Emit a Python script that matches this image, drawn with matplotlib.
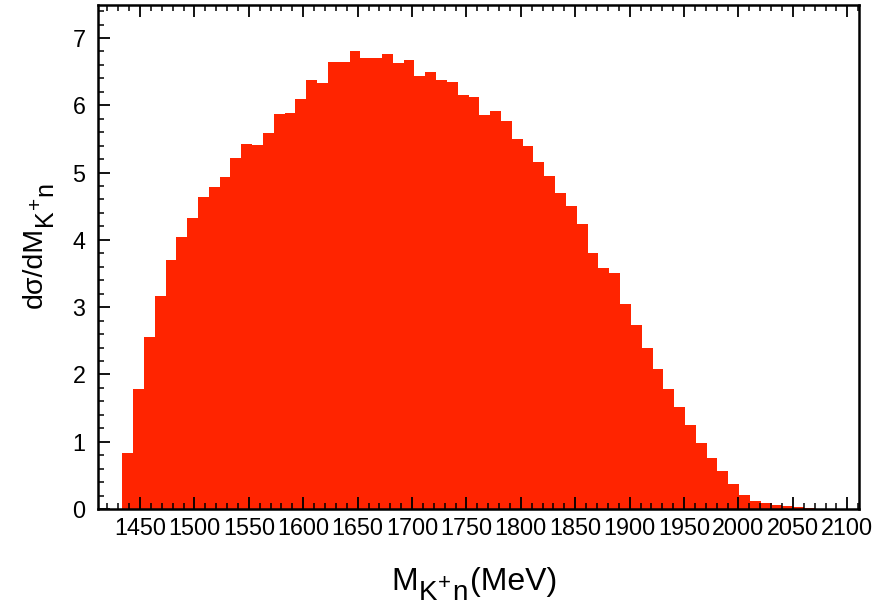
import numpy as np
import matplotlib
matplotlib.use("Agg")
import matplotlib.pyplot as plt
from matplotlib.ticker import MultipleLocator
from matplotlib.transforms import IdentityTransform
from matplotlib.font_manager import FontProperties

plt.rcParams['font.family'] = ['Liberation Sans', 'DejaVu Sans']

# Data: invariant mass bins (MeV) and d(sigma)/dM values
bin_start = 1433.7
bin_width = 9.945
values = [0.825, 1.785, 2.55, 3.17, 3.70, 4.04, 4.33, 4.63, 4.78, 4.935,
          5.22, 5.43, 5.41, 5.59, 5.877, 5.886, 6.10, 6.37, 6.33, 6.64,
          6.64, 6.80, 6.70, 6.71, 6.76, 6.63, 6.67, 6.43, 6.49, 6.38,
          6.35, 6.15, 6.13, 5.86, 5.92, 5.77, 5.50, 5.39, 5.16, 4.955,
          4.69, 4.51, 4.23, 3.80, 3.58, 3.50, 3.04, 2.73, 2.40, 2.08,
          1.78, 1.51, 1.245, 0.978, 0.76, 0.56, 0.373, 0.215, 0.126, 0.096,
          0.06, 0.04, 0.025, 0.01]
xticks = list(range(1450, 2101, 50))
yticks = list(range(0, 8))

edges = bin_start + bin_width * np.arange(len(values) + 1)

W, H = 875, 605
fig = plt.figure(figsize=(W / 100, H / 100), dpi=100)
ax = fig.add_axes([0.112, 0.1587, 0.870, 0.833])

ax.stairs(values, edges, fill=True, color='#ff2400', linewidth=0)

ax.set_xlim(1411.4, 2111)
ax.set_ylim(0, 7.49)
ax.set_xticks(xticks)
ax.set_xticklabels([str(t) for t in xticks])
ax.set_yticks(yticks)
ax.xaxis.set_minor_locator(MultipleLocator(10))
ax.yaxis.set_minor_locator(MultipleLocator(0.2))

ax.tick_params(which='both', direction='in', top=True, right=False,
               labelsize=16.8, color='black')
ax.tick_params(which='major', length=8.5, width=1.3)
ax.tick_params(which='minor', length=4.3, width=1.1)
ax.tick_params(axis='x', pad=6)
ax.tick_params(axis='y', pad=9)

for sp in ax.spines.values():
    sp.set_linewidth(1.8)


def compose(pieces, center, base, rotation=0):
    """Draw a label made of pieces (text, fontsize, shift_px_down, gap_px)."""
    r = fig.canvas.get_renderer()
    widths = []
    for s, fs, dy, gap in pieces:
        fp = FontProperties(family='Liberation Sans', size=fs)
        w, h, d = r.get_text_width_height_descent(s, fp, ismath=False)
        widths.append(w + gap)
    total = sum(widths)
    if rotation == 0:
        cx = center - total / 2.0
        for (s, fs, dy, gap), w in zip(pieces, widths):
            fig.text(cx, H - (base + dy), s, fontsize=fs,
                     family='Liberation Sans', ha='left', va='baseline',
                     transform=IdentityTransform())
            cx += w
    else:
        cy = (H - center) - total / 2.0
        for (s, fs, dy, gap), w in zip(pieces, widths):
            fig.text(base + dy, cy, s, fontsize=fs, rotation=90,
                     rotation_mode='anchor', family='Liberation Sans',
                     ha='left', va='baseline', transform=IdentityTransform())
            cy += w


xlabel_pieces = [('M', 23, 0, 1), ('K', 20, 10, 1), ('+', 16, -1, 1),
                 ('n', 20, 10, 2), ('(MeV)', 23, 0, 0)]
ylabel_pieces = [('dσ/dM', 20.5, 0, 1), ('K', 18, 11, 1), ('+', 15, 0, 1),
                 ('n', 18, 11, 0)]

compose(xlabel_pieces, 474, 590, rotation=0)
compose(ylabel_pieces, 245, 41.5, rotation=90)

fig.savefig('out.png', dpi=100)
